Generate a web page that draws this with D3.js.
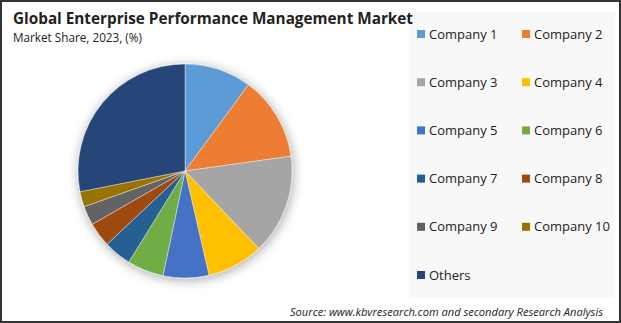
<!DOCTYPE html>
<html>
<head>
<meta charset="utf-8">
<script src="https://cdn.jsdelivr.net/npm/d3@7"></script>
<style>
  body { margin: 0; background: #fff; }
  svg { display: block; font-family: "Open Sans", sans-serif; }
</style>
</head>
<body>
<svg id="chart" width="621" height="323"></svg>
<script>
let width = 621, height = 323;

let companies = ["Company 1", "Company 2", "Company 3", "Company 4", "Company 5", "Company 6",
	"Company 7", "Company 8", "Company 9", "Company 10", "Others"];
let shares = [10.1, 12.7, 15.1, 8.5, 6.9, 5.5, 4.2, 3.7, 2.9, 2.3, 28.1];
let colors = ["#5b9bd5", "#ed7d31", "#a5a5a5", "#ffc000", "#4472c4", "#70ad47",
	"#255e91", "#9e480e", "#636363", "#997300", "#264478"];

let svg = d3.select("#chart");

// frame
svg.append("rect")
	.attr("x", 1).attr("y", 1)
	.attr("width", width - 2).attr("height", height - 2)
	.attr("fill", "#fff")
	.attr("stroke", "#333")
	.attr("stroke-width", 2);

// legend panel
svg.append("rect")
	.attr("x", 409).attr("y", 12)
	.attr("width", 206).attr("height", 286)
	.attr("fill", "#f8f8f8");

// shadow filter
let defs = svg.append("defs");
let filter = defs.append("filter").attr("id", "glow")
	.attr("x", "-30%").attr("y", "-30%").attr("width", "160%").attr("height", "160%");
filter.append("feGaussianBlur").attr("in", "SourceAlpha").attr("stdDeviation", 6).attr("result", "blur");
filter.append("feOffset").attr("in", "blur").attr("dx", 1).attr("dy", 2).attr("result", "off");
filter.append("feComponentTransfer").attr("in", "off").attr("result", "soft")
	.append("feFuncA").attr("type", "linear").attr("slope", 0.35);
let merge = filter.append("feMerge");
merge.append("feMergeNode").attr("in", "soft");
merge.append("feMergeNode").attr("in", "SourceGraphic");

// pie
let radius = 107;
let pie = d3.pie().sort(null).value(function(d) { return d; });
let arc = d3.arc().innerRadius(0).outerRadius(radius);

let pieG = svg.append("g")
	.attr("transform", "translate(185,171)")
	.attr("filter", "url(#glow)");

pieG.selectAll("path")
	.data(pie(shares))
	.enter().append("path")
	.attr("d", arc)
	.attr("fill", function(d, i) { return colors[i]; })
	.attr("stroke", "#fff")
	.attr("stroke-width", 0.4);

// title
svg.append("text")
	.attr("x", 13).attr("y", 24)
	.style("font-size", "16.5px")
	.style("font-weight", "bold")
	.attr("fill", "#222")
	.attr("textLength", 400)
	.attr("lengthAdjust", "spacingAndGlyphs")
	.text("Global Enterprise Performance Management Market");

svg.append("text")
	.attr("x", 13).attr("y", 42)
	.style("font-size", "12.5px")
	.attr("fill", "#222")
	.attr("textLength", 129)
	.attr("lengthAdjust", "spacingAndGlyphs")
	.text("Market Share, 2023, (%)");

// legend
let legend = svg.append("g")
	.selectAll("g")
	.data(companies)
	.enter().append("g")
	.attr("transform", function(d, i) {
		return "translate(" + (i % 2 === 0 ? 417 : 522) + "," + (34 + Math.floor(i / 2) * 48.2) + ")";
	});

legend.append("rect")
	.attr("x", 0).attr("y", -4)
	.attr("width", 8).attr("height", 8)
	.attr("fill", function(d, i) { return colors[i]; });

legend.append("text")
	.attr("x", 12).attr("y", 0)
	.attr("dy", "0.35em")
	.style("font-size", "13px")
	.attr("fill", "#222")
	.text(function(d) { return d; });

// source
svg.append("text")
	.attr("x", 603).attr("y", 316)
	.style("text-anchor", "end")
	.style("font-size", "11px")
	.style("font-style", "italic")
	.attr("fill", "#222")
	.attr("textLength", 313)
	.attr("lengthAdjust", "spacingAndGlyphs")
	.text("Source: www.kbvresearch.com and secondary Research Analysis");
</script>
</body>
</html>
